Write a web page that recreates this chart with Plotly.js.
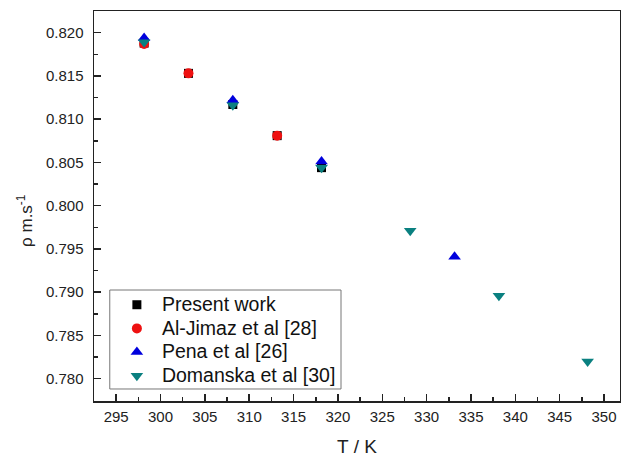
<!DOCTYPE html>
<html><head><meta charset="utf-8">
<script src="https://cdn.plot.ly/plotly-3.0.1.min.js"></script>
<style>body{margin:0;background:#fff}#c{width:621px;height:459px}</style>
</head><body><div id="c"></div>
<script>
const presentT = [298.15, 303.15, 308.15, 313.15, 318.15];
const presentRho = [0.8188, 0.8153, 0.8117, 0.8081, 0.8044];
const jimazT = [298.15, 303.15, 313.15];
const jimazRho = [0.8187, 0.8153, 0.8081];
const penaT = [298.15, 308.15, 318.15, 333.15];
const penaRho = [0.8194, 0.8122, 0.8051, 0.7941];
const domT = [298.15, 308.15, 318.15, 328.15, 338.15, 348.15];
const domRho = [0.8189, 0.8116, 0.8044, 0.7971, 0.7896, 0.7820];
const names = ['Present work', 'Al-Jimaz et al [28]', 'Pena et al [26]', 'Domanska et al [30]'];
const yTitle = 'ρ m.s<sup>-1</sup>';

const big = s => '<span style="font-size:19.5px">' + s + '</span>';
const mk = (sym, col, sz) => ({symbol: sym, color: col, size: sz, line: {width: 0}});
const data = [
  {x: presentT, y: presentRho, name: big(names[0]), mode: 'markers', type: 'scatter', marker: mk('square', '#000000', 9)},
  {x: jimazT, y: jimazRho, name: big(names[1]), mode: 'markers', type: 'scatter', marker: mk('circle', '#ee1111', 10)},
  {x: penaT, y: penaRho, name: big(names[2]), mode: 'markers', type: 'scatter', marker: mk('triangle-up', '#0000dd', 11)},
  {x: domT, y: domRho, name: big(names[3]), mode: 'markers', type: 'scatter', marker: mk('triangle-down', '#0a8080', 11)}
];
const F = 'Liberation Sans, Arial, sans-serif';
const axisCommon = {
  showgrid: false, zeroline: false, showline: true, linecolor: '#222', linewidth: 1.5,
  mirror: true, ticks: 'inside', ticklen: 7, tickwidth: 1.5, tickcolor: '#222',
  tickfont: {family: F, size: 15, color: '#222'}
};
const layout = {
  width: 621, height: 459,
  margin: {l: 94, r: 1, t: 11, b: 58},
  paper_bgcolor: '#fff', plot_bgcolor: '#fff',
  showlegend: true,
  xaxis: Object.assign({}, axisCommon, {
    range: [292.5, 351.8], dtick: 5, tick0: 295,
    ticklabelstandoff: 1,
    minor: {ticks: 'inside', dtick: 2.5, ticklen: 4, tickwidth: 1.5, tickcolor: '#222'},
    title: {text: 'T / K', font: {family: F, size: 19, color: '#222'}, standoff: 16}
  }),
  yaxis: Object.assign({}, axisCommon, {
    range: [0.77742, 0.82251], dtick: 0.005, tick0: 0.78, tickformat: '.3f',
    ticklabelstandoff: 6,
    minor: {ticks: 'inside', dtick: 0.0025, ticklen: 4, tickwidth: 1.5, tickcolor: '#222'}
  }),
  annotations: [{
    text: yTitle, textangle: -90, showarrow: false,
    xref: 'paper', yref: 'paper', x: -0.131, y: 0.462,
    xanchor: 'center', yanchor: 'middle',
    font: {family: F, size: 17, color: '#222'}
  }],
  legend: {
    x: 0.034, y: 0.29, xanchor: 'left', yanchor: 'top',
    bgcolor: 'rgba(0,0,0,0)', borderwidth: 0,
    font: {family: F, size: 15.9, color: '#111'},
    itemwidth: 40,
    tracegroupgap: 0
  },
  shapes: [{
    type: 'rect', xref: 'paper', yref: 'paper',
    x0: 0.030, x1: 0.4696, y0: 0.0308, y1: 0.2846,
    line: {color: '#777', width: 1}, fillcolor: 'rgba(0,0,0,0)', layer: 'above'
  }]
};
Plotly.newPlot('c', data, layout, {displayModeBar: false, staticPlot: true});
</script></body></html>
